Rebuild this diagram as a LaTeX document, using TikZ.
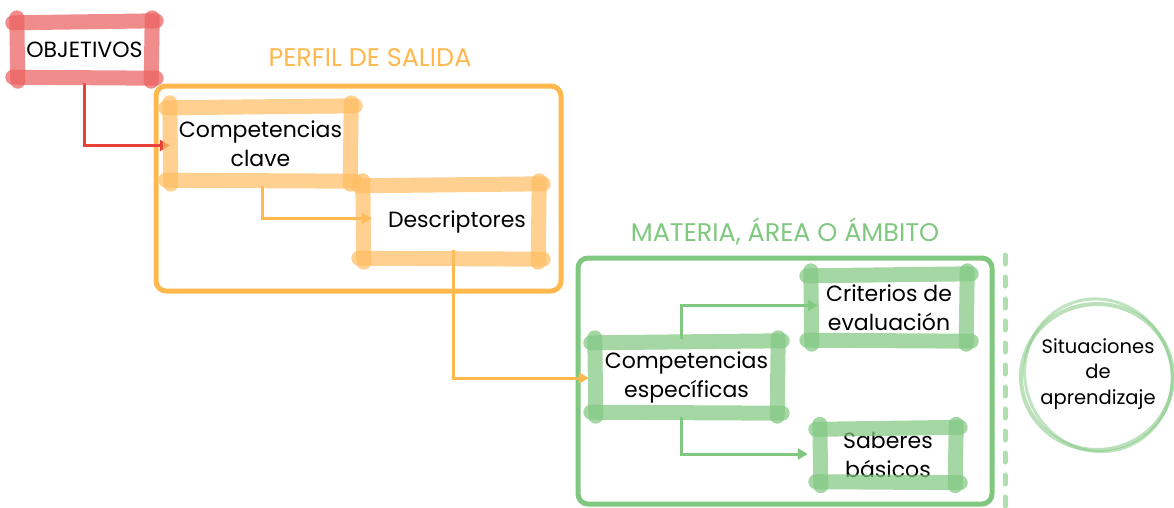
\documentclass[tikz,border=0pt]{standalone}
\usepackage{fontspec}
\setmainfont{Poppins}
\usetikzlibrary{arrows.meta,calc}
\definecolor{redbr}{RGB}{236,95,95}
\definecolor{redar}{RGB}{232,65,55}
\definecolor{orfr}{RGB}{255,184,77}
\definecolor{orbr}{RGB}{255,190,100}
\definecolor{grfr}{RGB}{128,200,128}
\definecolor{grbr}{RGB}{130,200,130}
\definecolor{grlt}{RGB}{175,222,175}
\newcommand\brushbox[2]{%
  \draw[brushline,#2] ($(#1.north west)+(-4,1)$) -- ($(#1.north east)+(4,-1)$);
  \draw[brushline,#2] ($(#1.south west)+(-4,0)$) -- ($(#1.south east)+(4,1)$);
  \draw[brushline,#2] ($(#1.north west)+(0,-4)$) -- ($(#1.south west)+(1,4)$);
  \draw[brushline,#2] ($(#1.north east)+(0,-4)$) -- ($(#1.south east)+(-1,4)$);
}
\begin{document}
\begin{tikzpicture}[x=1pt,y=-1pt,
  lbl/.style={align=center,font=\fontsize{22}{29}\selectfont,inner sep=0pt},
  brushline/.style={line width=15pt,line cap=round,opacity=0.72},
  arr/.style={line width=3pt,-{Triangle[length=10pt,width=11pt]}},
  frame/.style={line width=5pt,rounded corners=10pt},
  title/.style={font=\fontsize{25.5}{30}\selectfont,inner sep=0pt}]
\useasboundingbox (0,0) rectangle (1174,507);

% frames
\draw[frame,orfr] (156,86) rectangle (561,291);
\draw[frame,grfr] (578,258) rectangle (992,504);
\node[title,text=orfr] (t1) at (370,58) {PERFIL DE SALIDA};
\node[title,text=grfr] (t2) at (785,231) {MATERIA, ÁREA O ÁMBITO};

% nodes
\node[lbl,minimum width=135pt,minimum height=55pt] (obj) at (84.5,49.5) {OBJETIVOS};
\node[lbl,minimum width=181pt,minimum height=73pt] (ck) at (260.5,143.5) {Competencias\\clave};
\node[lbl,minimum width=176pt,minimum height=73pt] (desc) at (451,221.5) {\hspace*{12pt}Descriptores};
\node[lbl,minimum width=183pt,minimum height=70pt] (ce) at (686.5,377) {Competencias\\específicas};
\node[lbl,minimum width=156pt,minimum height=65pt] (crit) at (889,307.5) {Criterios de\\evaluación};
\node[lbl,minimum width=136pt,minimum height=53pt] (sab) at (888,455) {Saberes\\básicos};

% arrows
\draw[arr,redar] ($(obj.south)+(0,6)$) |- ($(ck.west)+(0,2)$);
\draw[arr,orfr] ($(ck.south)+(2,6)$) |- ($(desc.west)+(9,-3)$);
\draw[arr,orfr] ($(desc.south)+(2,-8)$) |- ($(ce.west)+(-6,1)$);
\draw[arr,grfr] ($(ce.north)+(-5,-3)$) |- ($(crit.west)+(7,-2)$);
\draw[arr,grfr] ($(ce.south)+(-5,5)$) |- ($(sab.west)+(-12,-1)$);

% brushes
\brushbox{obj}{redbr}
\brushbox{ck}{orbr}
\brushbox{desc}{orbr}
\brushbox{ce}{grbr}
\brushbox{crit}{grbr}
\brushbox{sab}{grbr}

% dashed separator
\coordinate (d1) at (1005,255);
\coordinate (d2) at (1005,510);
\draw[grlt,line width=5pt,line cap=round,dash pattern=on 9pt off 13pt] (d1) -- (d2);

% circle
\node[lbl,font=\fontsize{19.5}{25.5}\selectfont] (sit) at (1098,374) {Situaciones\\de\\aprendizaje};
\draw[grbr,opacity=0.55,line width=4pt] (1097,377) ellipse [x radius=76pt,y radius=73pt];
\draw[grbr,opacity=0.5,line width=3pt,rotate around={25:(1097,377)}] (1099,376) ellipse [x radius=73pt,y radius=77pt];
\end{tikzpicture}
\end{document}
